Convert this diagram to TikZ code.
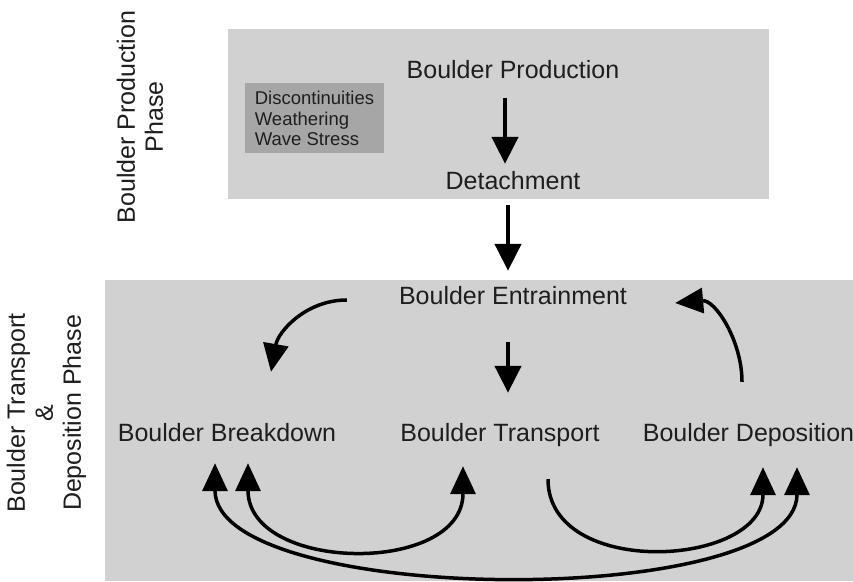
\documentclass[tikz,border=0pt]{standalone}
\usepackage{fontspec}
\setmainfont{Liberation Sans}
\usetikzlibrary{arrows.meta,positioning}
\definecolor{phasegray}{RGB}{209,209,209}
\definecolor{causegray}{RGB}{166,166,166}
\definecolor{inkgray}{RGB}{30,30,30}

\begin{document}
\begin{tikzpicture}[x=1pt,y=1pt,on grid,font=\fontsize{25}{28}\selectfont,text=inkgray,
	stage/.style={text height=18pt,text depth=5pt,inner sep=0pt},
	flow/.style={-{Triangle[length=27pt,width=26pt]},line width=4.5pt,draw=black},
	arcflow/.style={-{Triangle[length=28pt,width=25pt]},line width=3.5pt,draw=black}]
\useasboundingbox[fill=white] (0,0) rectangle (853,581);
% phase boxes
\fill[phasegray]	(228,552)	rectangle	(769,382);
\fill[phasegray]	(105,301)	rectangle	(853,0);

\node[fill=causegray,minimum width=139pt,minimum height=70pt,inner sep=0pt,align=left,font=\fontsize{18.5}{20.5}\selectfont]
								(cause)		at (314.5,462.5)					{Discontinuities\\Weathering\\Wave Stress};
\node[rotate=90,align=center]	(prodphase)	at (140,464)						{Boulder Production\\Phase};
\node[rotate=90,align=center]	(transphase)	at (46.5,168)					{Boulder Transport\\\&\\Deposition Phase};

\node[stage]					(prod)		at (513,509)						{Boulder Production};
\node[stage]					(detach)	[below=111pt of prod]				{Detachment};
\node[stage]					(entr)		[below=115pt of detach]				{Boulder Entrainment};
\node[stage]					(trans)		[below left=137pt and 13pt of entr]	{Boulder Transport};
\node[stage]					(brk)		[left=273pt of trans]				{Boulder Breakdown};
\node[stage]					(depo)		[right=248.5pt of trans]			{Boulder Deposition};

\draw[flow,shorten <=14.5pt,shorten >=7.5pt]	([xshift=-8pt]prod.south)	--	([xshift=-8pt]detach.north);
\draw[flow,shorten <=10.5pt,shorten >=15.5pt]	([xshift=-5pt]detach.south)	--	([xshift=-5pt]entr.north);
\draw[flow,shorten <=32.5pt,shorten >=30.5pt]	([xshift=-5pt]entr.south)	--	([xshift=8pt]trans.north);

\draw[arcflow]	([xshift=-52pt,yshift=-2pt]entr.west)		to[out=180,in=80]	([xshift=44pt,yshift=51.5pt]brk.north);
\draw[arcflow]	([xshift=-6.5pt,yshift=41.5pt]depo.north)	to[out=90,in=5]		([xshift=48pt,yshift=-5pt]entr.east);

\draw[arcflow,{Triangle[length=28pt,width=25pt]}-{Triangle[length=28pt,width=25pt]}]
	([xshift=21pt,yshift=-16.5pt]brk.south)	to[out=-90,in=-90,looseness=1.3]	([xshift=-37pt,yshift=-19.5pt]trans.south);
\draw[arcflow,{Triangle[length=28pt,width=25pt]}-{Triangle[length=28pt,width=25pt]}]
	([xshift=-12pt,yshift=-16.5pt]brk.south)	to[out=-90,in=-90,looseness=0.63]	([xshift=48.5pt,yshift=-20.5pt]depo.south);
\draw[arcflow]	([xshift=48pt,yshift=-32.5pt]trans.south)	to[out=-90,in=-90,looseness=1.19]	([xshift=14.5pt,yshift=-20.5pt]depo.south);
\end{tikzpicture}
\end{document}
